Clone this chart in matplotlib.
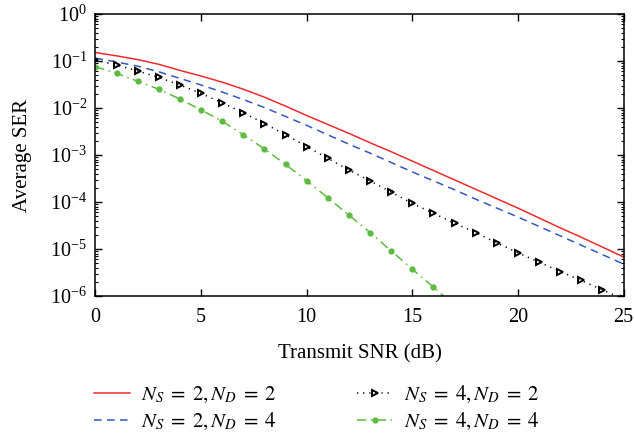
import numpy as np
import matplotlib
matplotlib.use("Agg")
import matplotlib.pyplot as plt

plt.rcParams['font.family'] = ['Liberation Serif', 'DejaVu Serif']
plt.rcParams['mathtext.fontset'] = 'stix'

snr = np.arange(0, 26)
# log10 of average SER
red_log = [-0.82, -0.89, -0.97, -1.07, -1.20, -1.32, -1.45, -1.60, -1.77, -1.96,
           -2.16, -2.35, -2.54, -2.74, -2.93, -3.13, -3.33, -3.53, -3.73, -3.93,
           -4.13, -4.34, -4.55, -4.75, -4.96, -5.17]
blue_log = [-0.94, -1.02, -1.11, -1.23, -1.37, -1.51, -1.66, -1.82, -1.99, -2.18,
            -2.37, -2.57, -2.77, -2.96, -3.16, -3.36, -3.55, -3.74, -3.94, -4.13,
            -4.32, -4.52, -4.72, -4.92, -5.12, -5.32]
black_log = [-0.98, -1.085, -1.21, -1.35, -1.51, -1.69, -1.89, -2.10, -2.33, -2.57,
             -2.82, -3.07, -3.32, -3.55, -3.79, -4.03, -4.24, -4.45, -4.65, -4.87,
             -5.08, -5.28, -5.48, -5.67, -5.87, -6.07]
snr_green = np.arange(0, 18)
green_log = [-1.12, -1.26, -1.43, -1.60, -1.81, -2.04, -2.28, -2.57, -2.87, -3.20,
             -3.55, -3.91, -4.28, -4.65, -5.04, -5.43, -5.81, -6.21]

labels = [r'$N_S\;=\;2, N_D\;=\;2$', r'$N_S\;=\;2, N_D\;=\;4$',
          r'$N_S\;=\;4, N_D\;=\;2$', r'$N_S\;=\;4, N_D\;=\;4$']
x_ticks = [0, 5, 10, 15, 20, 25]

fig = plt.figure(figsize=(6.34, 4.33), dpi=100)
ax = fig.add_axes([95.4/634, 1-296/433, (623.6-95.4)/634, (296-14)/433])

ax.semilogy(snr, 10**np.array(red_log), '-', color='#EE2C2C', lw=1.1, label=labels[0])
ax.semilogy(snr, 10**np.array(blue_log), '--', color='#3558C0', lw=1.1,
            dashes=(5, 3.5), label=labels[1])
ax.semilogy(snr, 10**np.array(black_log), ':', color='black', lw=1.1,
            dashes=(0.8, 3.2), marker='>', ms=4.8, mfc='none', mec='black', mew=1.4,
            label=labels[2])
ax.semilogy(snr_green, 10**np.array(green_log), '-.', color='#5DBB3F', lw=1.1,
            dashes=(6, 3, 1, 3), marker='o', ms=3.5, mfc='#5DBB3F', mec='#5DBB3F',
            label=labels[3])

ax.set_xlim(0, 25)
ax.set_ylim(1e-6, 1)
ax.set_xticks(x_ticks)
ax.tick_params(which='both', direction='in', top=True, right=True, labelsize=14.5)
ax.tick_params(which='major', length=5, width=1)
ax.tick_params(axis='x', which='major', pad=9)
ax.tick_params(axis='y', which='major', pad=6)
ax.tick_params(which='minor', length=2.5, width=0.8)
ax.yaxis.set_minor_locator(matplotlib.ticker.LogLocator(base=10, subs=np.arange(2, 10), numticks=20))
for s in ax.spines.values():
    s.set_linewidth(1.1)

ax.set_xlabel('Transmit SNR (dB)', fontsize=15, labelpad=12)
ax.set_ylabel('Average SER', fontsize=15, labelpad=13)

leg = fig.legend(loc='center', bbox_to_anchor=(0.5, 1 - 408/433), ncol=2,
                 frameon=False, fontsize=15, handlelength=1.7, columnspacing=3.85,
                 handletextpad=0.55, labelspacing=0.28, numpoints=1)

fig.savefig('out.png', dpi=100)
